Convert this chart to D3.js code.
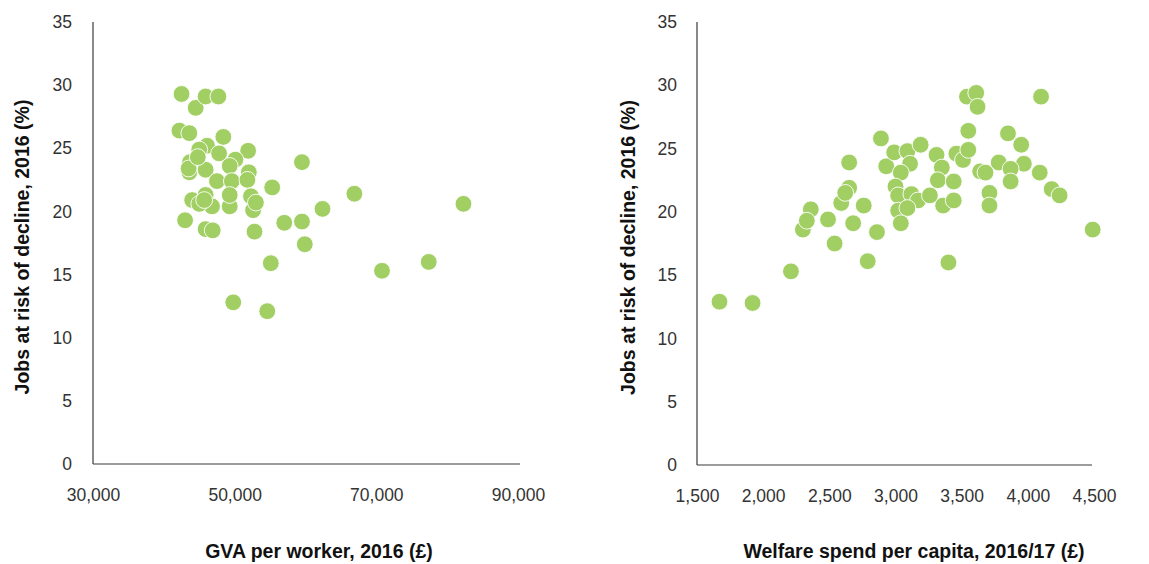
<!DOCTYPE html>
<html>
<head>
<meta charset="utf-8">
<script src="https://cdn.jsdelivr.net/npm/d3@7"></script>
<style>
  html, body { margin: 0; padding: 0; background: #fff; }
  svg { display: block; }
  .tick-label { font-family: "Liberation Sans", Arial, sans-serif; font-size: 17.5px; fill: #333; }
  .axis-title { font-family: "Liberation Sans", Arial, sans-serif; font-size: 19.5px; font-weight: bold; fill: #111; }
</style>
</head>
<body>
<svg id="chart" width="1149" height="564"></svg>
<script>
// ---------- DATA ----------
const yTicks = [0, 5, 10, 15, 20, 25, 30, 35];

// Left chart: GVA per worker vs jobs at risk
const gvaTicks = [30000, 50000, 70000, 90000];
const gvaX = [42500, 44500, 45900, 47700, 42200, 43600, 48400, 46100, 47800, 45000,
              51900, 50100, 43700, 43600, 45900, 49300, 52000, 47500, 49600, 51800,
              55300, 44000, 45900, 52300, 46800, 49300, 52600, 53000, 43000, 45900,
              46900, 52800, 57000, 55100, 59500, 62400, 59500, 59900, 66900, 70800,
              77400, 82300, 49800, 54600, 49300, 45000, 43500, 44800, 45700];
const gvaY = [29.3, 28.2, 29.1, 29.1, 26.4, 26.2, 25.9, 25.2, 24.6, 24.9,
              24.8, 24.1, 23.9, 23.1, 23.3, 23.6, 23.1, 22.4, 22.4, 22.5,
              21.9, 20.9, 21.3, 21.2, 20.4, 20.4, 20.1, 20.7, 19.3, 18.6,
              18.5, 18.4, 19.1, 15.9, 23.9, 20.2, 19.2, 17.4, 21.4, 15.3,
              16.0, 20.6, 12.8, 12.1, 21.3, 20.6, 23.4, 24.3, 20.9];

// Right chart: welfare spend per capita vs jobs at risk
const welfareTicks = [1500, 2000, 2500, 3000, 3500, 4000, 4500];
const welfareX = [1670, 1920, 2210, 2300, 2360, 2330, 2490, 2540, 2590, 2650,
                  2620, 2650, 2760, 2680, 2860, 2790, 2890, 2930, 2990, 3090,
                  3190, 3110, 3040, 3000, 3020, 3120, 3170, 3020, 3090, 3040,
                  3310, 3350, 3460, 3510, 3550, 3550, 3540, 3610, 3620, 4100,
                  3850, 3950, 3780, 3970, 3870, 3870, 4090, 3640, 3680, 3320,
                  3440, 3260, 3360, 3440, 3710, 3710, 4180, 4240, 4490, 3400];
const welfareY = [12.9, 12.8, 15.3, 18.6, 20.2, 19.3, 19.4, 17.5, 20.7, 21.9,
                  21.5, 23.9, 20.5, 19.1, 18.4, 16.1, 25.8, 23.6, 24.7, 24.8,
                  25.3, 23.8, 23.1, 22.0, 21.3, 21.4, 20.9, 20.1, 20.3, 19.1,
                  24.5, 23.5, 24.6, 24.1, 24.9, 26.4, 29.1, 29.4, 28.3, 29.1,
                  26.2, 25.3, 23.9, 23.8, 23.4, 22.4, 23.1, 23.2, 23.1, 22.5,
                  22.4, 21.3, 20.5, 20.9, 21.5, 20.5, 21.8, 21.3, 18.6, 16.0];

// ---------- DRAW ----------
const svg = d3.select("#chart");
const fmt = d3.format(",");
const dotColor = "#a1cf64";
const axisColor = "#3a3a3a";

function drawPanel(cfg) {
  const x = d3.scaleLinear().domain(cfg.xDomain).range([cfg.left, cfg.right]);
  const y = d3.scaleLinear().domain([0, 35]).range([cfg.bottom, cfg.top]);
  const g = svg.append("g");

  // y axis (labels only, no tick marks)
  const yAxis = d3.axisLeft(y).tickValues(yTicks).tickSize(0).tickPadding(cfg.yPad);
  const ya = g.append("g").attr("transform", `translate(${cfg.left},0)`).call(yAxis);
  ya.select(".domain").remove();
  ya.selectAll("text").attr("class", "tick-label").attr("font-size", null).attr("font-family", null).attr("fill", null);
  ya.attr("font-size", null).attr("font-family", null);

  // x axis labels
  const xAxis = d3.axisBottom(x).tickValues(cfg.xTicks).tickSize(0).tickPadding(cfg.xPad).tickFormat(fmt);
  const xa = g.append("g").attr("transform", `translate(0,${cfg.bottom})`).call(xAxis);
  xa.select(".domain").remove();
  xa.selectAll("text").attr("class", "tick-label").attr("fill", null);
  xa.attr("font-size", null).attr("font-family", null);

  // axis lines
  g.append("line").attr("x1", cfg.left).attr("x2", cfg.left)
    .attr("y1", cfg.top).attr("y2", cfg.bottom)
    .attr("stroke", axisColor).attr("stroke-width", 1.2);
  g.append("line").attr("x1", cfg.left).attr("x2", cfg.lineRight)
    .attr("y1", cfg.bottom).attr("y2", cfg.bottom)
    .attr("stroke", axisColor).attr("stroke-width", 1.2);

  // points
  const pts = cfg.xs.map((v, i) => [v, cfg.ys[i]]);
  g.append("g").selectAll("circle").data(pts).join("circle")
    .attr("cx", d => x(d[0]))
    .attr("cy", d => y(d[1]))
    .attr("r", 8.4)
    .attr("fill", dotColor)
    .attr("stroke", "#fff")
    .attr("stroke-width", 0.9);

  // titles
  g.append("text").attr("class", "axis-title")
    .attr("x", cfg.xTitleX).attr("y", 558)
    .attr("text-anchor", "middle")
    .text(cfg.xTitle);
  g.append("text").attr("class", "axis-title")
    .attr("transform", `translate(${cfg.yTitleX},${(cfg.top + cfg.bottom) / 2 + 4}) rotate(-90)`)
    .attr("text-anchor", "middle")
    .text("Jobs at risk of decline, 2016 (%)");
}

drawPanel({
  xDomain: [30000, 90000], xTicks: gvaTicks, xs: gvaX, ys: gvaY,
  left: 93, right: 518, lineRight: 520, top: 22, bottom: 464,
  yPad: 21, xPad: 25,
  xTitle: "GVA per worker, 2016 (£)", xTitleX: 319, yTitleX: 29
});

drawPanel({
  xDomain: [1500, 4500], xTicks: welfareTicks, xs: welfareX, ys: welfareY,
  left: 697, right: 1094, lineRight: 1092, top: 22, bottom: 465,
  yPad: 20, xPad: 25,
  xTitle: "Welfare spend per capita, 2016/17 (£)", xTitleX: 914, yTitleX: 635
});
</script>
</body>
</html>
